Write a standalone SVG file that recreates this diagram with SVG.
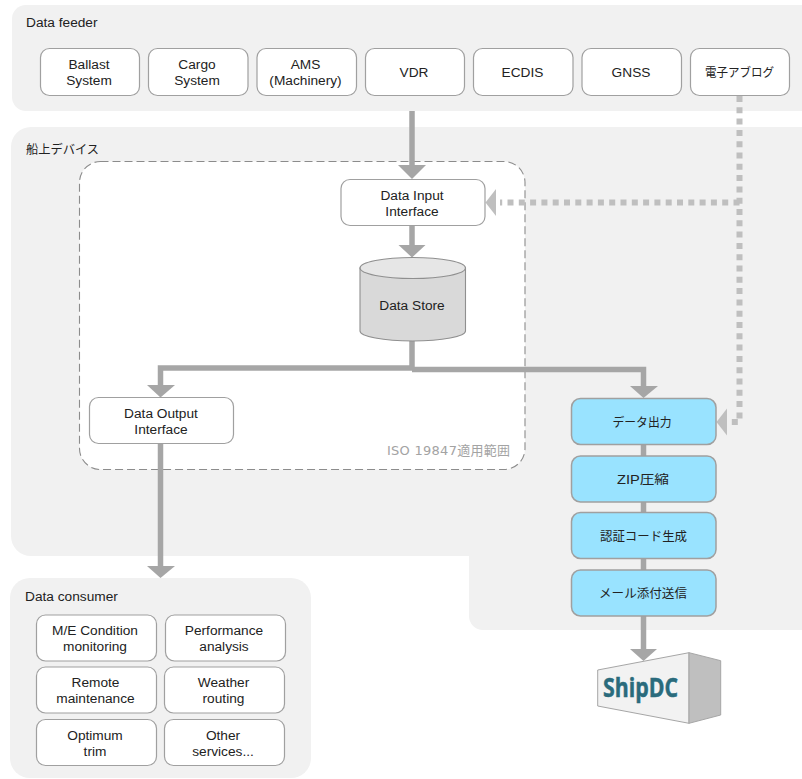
<svg xmlns="http://www.w3.org/2000/svg" width="802" height="779" viewBox="0 0 802 779">
<style>
text{font-family:"Liberation Sans","Noto Sans CJK JP",Arial,sans-serif;font-size:13.700px;fill:#222;text-anchor:middle}
.lbl{text-anchor:start}
.jp{font-size:12.500px}
.bg{fill:#f1f1f1}
.box{fill:#fff;stroke:#a0a0a0;stroke-width:1.2}
.blue{fill:#99e3ff;stroke:#a0a0a0;stroke-width:1.5}
.c{fill:none;stroke:#a6a6a6;stroke-width:5.5}
.h{fill:#a6a6a6}
.d{fill:none;stroke:#bfbfbf;stroke-width:6;stroke-dasharray:6 5.3}
.dh{fill:#bfbfbf}
</style>
<g id="background">
<path class="bg" d="M802 5H26a14 14 0 0 0-14 14V97a14 14 0 0 0 14 14H802Z"/>
<path class="bg" d="M802 127H31a20 20 0 0 0-20 20V536a20 20 0 0 0 20 20H469V616a14 14 0 0 0 14 14H802Z"/>
<rect class="bg" x="10" y="578" width="301" height="200" rx="20"/>
<text class="lbl" x="26" y="27">Data feeder</text>
<text class="lbl jp" x="26" y="154" textLength="73" lengthAdjust="spacingAndGlyphs">船上デバイス</text>
<text class="lbl" x="25" y="601">Data consumer</text>
</g>
<g id="iso-scope">
<rect x="79.500" y="161.500" width="445.500" height="308" rx="21" fill="#fff" stroke="#8c8c8c" stroke-width="1.100" stroke-dasharray="8 4"/>
<text x="510" y="455" style="text-anchor:end;fill:#a3a3a3;font-family:'DejaVu Sans','Noto Sans CJK JP',sans-serif;font-size:13px" textLength="123">ISO 19847適用範囲</text>
</g>
<g id="connectors">
<path class="c" d="M412 111V166"/><path class="h" d="M398 165H426L412 179Z"/>
<path class="c" d="M412 225V246"/><path class="h" d="M398.500 245H425.500L412 257.500Z"/>
<path class="c" d="M412 341V369M412 368H160.500V386"/><path class="h" d="M147 385H175L160.500 397.500Z"/>
<path class="c" d="M412 369.500H643.500V387"/><path class="h" d="M630 386H658L643.500 398Z"/>
<path class="c" d="M160.500 443V567"/><path class="h" d="M147 566H175L160.500 578Z"/>
<path class="c" d="M643.500 444V650"/><path class="h" d="M630 649H657L643.500 661Z"/>
<path class="d" d="M739.500 96V422H731"/><path class="dh" d="M727 408.500V435.500L716.500 422Z"/>
<path class="d" d="M739.500 202.500H500"/><path class="dh" d="M496 189V216L485.500 202.500Z"/>
</g>
<g id="ballast"><rect class="box" x="40.500" y="48.500" width="99" height="47" rx="9"/><text x="89" y="69">Ballast</text><text x="89" y="85">System</text></g>
<g id="cargo"><rect class="box" x="148.500" y="48.500" width="99.500" height="47" rx="9"/><text x="197" y="69">Cargo</text><text x="197" y="85">System</text></g>
<g id="ams"><rect class="box" x="257" y="48.500" width="99.500" height="47" rx="9"/><text x="305.500" y="69">AMS</text><text x="305.500" y="85">(Machinery)</text></g>
<g id="vdr"><rect class="box" x="365.500" y="48.500" width="99" height="47" rx="9"/><text x="414" y="77">VDR</text></g>
<g id="ecdis"><rect class="box" x="473.500" y="48.500" width="99.500" height="47" rx="9"/><text x="522.500" y="77">ECDIS</text></g>
<g id="gnss"><rect class="box" x="582" y="48.500" width="99.500" height="47" rx="9"/><text x="631" y="77">GNSS</text></g>
<g id="elog"><rect class="box" x="690.500" y="48.500" width="99" height="47" rx="9"/><text class="jp" x="739.500" y="77" textLength="69" lengthAdjust="spacingAndGlyphs">電子アブログ</text></g>
<g id="data-input"><rect class="box" x="341" y="179.500" width="144" height="46" rx="9"/><text x="412" y="200">Data Input</text><text x="412" y="216">Interface</text></g>
<g id="data-store">
<path d="M360 268V331C360 336.500 383.500 341 412.750 341S465.500 336.500 465.500 331V268Z" fill="#d9d9d9" stroke="#8f8f8f" stroke-width="1.100"/>
<ellipse cx="412.750" cy="268" rx="52.750" ry="10.500" fill="#e6e6e6" stroke="#8f8f8f" stroke-width="1.100"/>
<text x="412" y="310">Data Store</text>
</g>
<g id="data-output"><rect class="box" x="89.500" y="397.500" width="144" height="46" rx="9"/><text x="161" y="418">Data Output</text><text x="161" y="434">Interface</text></g>
<g id="data-out-jp"><rect class="blue" x="571.500" y="398.500" width="144.500" height="46" rx="9"/><text class="jp" x="642" y="427" textLength="59" lengthAdjust="spacingAndGlyphs">データ出力</text></g>
<g id="zip"><rect class="blue" x="571.500" y="456" width="144.500" height="46" rx="9"/><text class="jp" x="643" y="484" textLength="52" lengthAdjust="spacingAndGlyphs">ZIP圧縮</text></g>
<g id="auth"><rect class="blue" x="571.500" y="512.500" width="144.500" height="46" rx="9"/><text class="jp" x="643.500" y="541" textLength="87" lengthAdjust="spacingAndGlyphs">認証コード生成</text></g>
<g id="mail"><rect class="blue" x="571.500" y="570" width="144.500" height="46" rx="9"/><text class="jp" x="643" y="598" textLength="88" lengthAdjust="spacingAndGlyphs">メール添付送信</text></g>
<g id="me"><rect class="box" x="36.500" y="615" width="120" height="46" rx="9"/><text x="95" y="635">M/E Condition</text><text x="95" y="651">monitoring</text></g>
<g id="perf"><rect class="box" x="165.500" y="615" width="120" height="46" rx="9"/><text x="224" y="635">Performance</text><text x="224" y="651">analysis</text></g>
<g id="remote"><rect class="box" x="36.500" y="667" width="120" height="46" rx="9"/><text x="95.500" y="687">Remote</text><text x="95.500" y="703">maintenance</text></g>
<g id="weather"><rect class="box" x="164.500" y="667" width="120" height="46" rx="9"/><text x="223.500" y="687">Weather</text><text x="223.500" y="703">routing</text></g>
<g id="optimum"><rect class="box" x="36.500" y="719.500" width="120" height="46" rx="9"/><text x="95" y="740">Optimum</text><text x="95" y="756">trim</text></g>
<g id="other"><rect class="box" x="164.500" y="719.500" width="120" height="46" rx="9"/><text x="223" y="740">Other</text><text x="223" y="756">services...</text></g>
<g id="shipdc">
<path d="M597.700 670L689 652.700V723.300L597.700 706Z" fill="#f2f2f2" stroke="#a6a6a6"/>
<path d="M689 652.700L720.700 660.700V715L689 723.300Z" fill="#bfbfbf" stroke="#a6a6a6"/>
<text x="640.500" y="697" style="font-family:'Open Sans','Noto Sans',sans-serif;font-weight:700;font-size:27px;fill:#2a6b7c;stroke:#2a6b7c;stroke-width:0.500" textLength="75" lengthAdjust="spacingAndGlyphs">ShipDC</text>
</g>
</svg>
